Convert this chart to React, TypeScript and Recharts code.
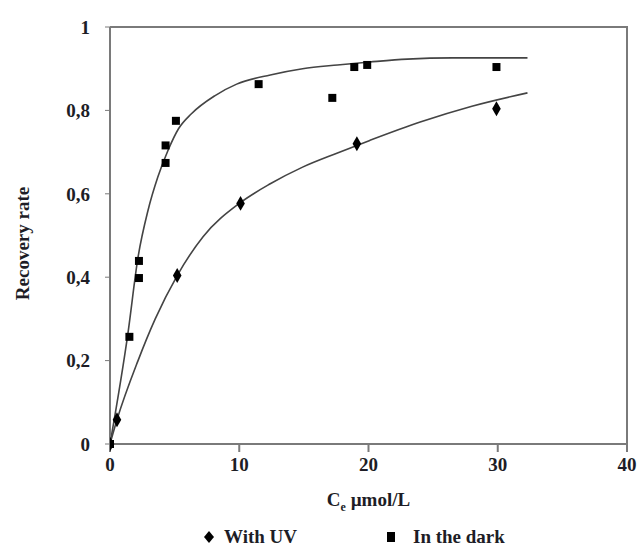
import React from "react";
import {
  ComposedChart,
  Line,
  Scatter,
  XAxis,
  YAxis,
  ReferenceLine,
} from "recharts";

// measured points (Ce in µmol/L, recovery rate)
const uvPoints = [
  { x: 0, y: 0 },
  { x: 0.54, y: 0.058 },
  { x: 5.2, y: 0.404 },
  { x: 10.1, y: 0.577 },
  { x: 19.1, y: 0.72 },
  { x: 29.9, y: 0.804 },
];

const darkPoints = [
  { x: 0, y: 0 },
  { x: 1.5, y: 0.257 },
  { x: 2.24, y: 0.398 },
  { x: 2.24, y: 0.439 },
  { x: 4.3, y: 0.674 },
  { x: 4.3, y: 0.716 },
  { x: 5.1, y: 0.775 },
  { x: 11.5, y: 0.863 },
  { x: 17.2, y: 0.83 },
  { x: 18.9, y: 0.904 },
  { x: 19.9, y: 0.909 },
  { x: 29.9, y: 0.904 },
];

// fitted curves
const uvFit = [
  { x: 0, y: 0 },
  { x: 0.54, y: 0.058 },
  { x: 2.17, y: 0.2 },
  { x: 3.5, y: 0.3 },
  { x: 5.2, y: 0.404 },
  { x: 7.2, y: 0.497 },
  { x: 10.05, y: 0.578 },
  { x: 12.4, y: 0.624 },
  { x: 14.9, y: 0.664 },
  { x: 17.6, y: 0.698 },
  { x: 20.1, y: 0.728 },
  { x: 24, y: 0.772 },
  { x: 28, y: 0.81 },
  { x: 32.3, y: 0.842 },
];

const darkFit = [
  { x: 0, y: 0 },
  { x: 1.39, y: 0.266 },
  { x: 2.17, y: 0.448 },
  { x: 2.94, y: 0.56 },
  { x: 3.7, y: 0.64 },
  { x: 4.5, y: 0.705 },
  { x: 5.3, y: 0.756 },
  { x: 6.3, y: 0.792 },
  { x: 8.1, y: 0.835 },
  { x: 9.8, y: 0.863 },
  { x: 12.4, y: 0.885 },
  { x: 14.9, y: 0.9 },
  { x: 17.6, y: 0.909 },
  { x: 20.1, y: 0.916 },
  { x: 23, y: 0.923 },
  { x: 26.5, y: 0.926 },
  { x: 32.3, y: 0.926 },
];

const xTicks = [0, 10, 20, 30, 40];
const yTicks = [0, 0.2, 0.4, 0.6, 0.8, 1];
const X_MAX = 40;
const Y_MAX = 1;

const CHART_W = 637;
const CHART_H = 547;
const MARGIN = { top: 27, right: 10, bottom: 73, left: 0 };
const Y_AXIS_W = 110;
const X_AXIS_H = 30;

// plot box, derived from the layout settings above
const BOX = {
  left: MARGIN.left + Y_AXIS_W,
  top: MARGIN.top,
  right: CHART_W - MARGIN.right,
  bottom: CHART_H - MARGIN.bottom - X_AXIS_H,
};

const FONT = '"Liberation Serif", "Times New Roman", serif';
const AXIS = "#7a7a7a";
const INK = "#1d1d26";

const tickStyle = { fontFamily: FONT, fontSize: 19, fontWeight: 700, fill: INK };

const XLabel = ({ viewBox }: any) => {
  const cx = viewBox.x + viewBox.width / 2;
  return (
    <text
      x={cx}
      y={viewBox.y + 62}
      textAnchor="middle"
      fontFamily={FONT}
      fontSize={19}
      fontWeight={700}
      fill={INK}
    >
      C
      <tspan fontSize={12} dy={5}>e</tspan>
      <tspan dy={-5}> µmol/L</tspan>
    </text>
  );
};

const YLabel = ({ viewBox }: any) => {
  const cy = viewBox.y + viewBox.height / 2 + 8;
  return (
    <text
      x={29}
      y={cy}
      transform={`rotate(-90 29 ${cy})`}
      textAnchor="middle"
      fontFamily={FONT}
      fontSize={19}
      fontWeight={700}
      fill={INK}
    >
      Recovery rate
    </text>
  );
};

const LegendBox = () => (
  <div
    style={{
      position: "absolute",
      left: 0,
      top: 526,
      width: CHART_W,
      height: 22,
      fontFamily: FONT,
      fontSize: 19,
      fontWeight: 700,
      color: INK,
      lineHeight: "22px",
    }}
  >
    <span style={{ position: "absolute", left: 203, top: 0, display: "flex", alignItems: "center" }}>
      <svg width={12} height={14}>
        <path d="M6 1 L11 7 L6 13 L1 7 Z" fill="#000" />
      </svg>
      <span style={{ marginLeft: 9 }}>With UV</span>
    </span>
    <span style={{ position: "absolute", left: 386, top: 0, display: "flex", alignItems: "center" }}>
      <svg width={10} height={12}>
        <rect x={1} y={1} width={8} height={10} fill="#000" />
      </svg>
      <span style={{ marginLeft: 17 }}>In the dark</span>
    </span>
  </div>
);

// svg overlay for the top and right edges of the frame
const Frame = () => (
  <svg
    width={CHART_W}
    height={CHART_H}
    style={{ position: "absolute", left: 0, top: 0, zIndex: 3, pointerEvents: "none" }}
  >
    <line x1={BOX.left} y1={BOX.top} x2={BOX.right + 1} y2={BOX.top} stroke={AXIS} strokeWidth={2} />
    <line x1={BOX.right} y1={BOX.top} x2={BOX.right} y2={BOX.bottom} stroke={AXIS} strokeWidth={2} />
  </svg>
);

export default function App() {
  return (
    <div style={{ position: "absolute", left: 0, top: 0, width: CHART_W, height: CHART_H, background: "#fff" }}>
      <div style={{ position: "absolute", left: 0, top: 0 }}>
        <ComposedChart width={CHART_W} height={CHART_H} margin={MARGIN}>
          <XAxis
            dataKey="x"
            type="number"
            domain={[0, X_MAX]}
            ticks={xTicks}
            height={X_AXIS_H}
            allowDataOverflow
            stroke={AXIS}
            strokeWidth={2}
            tickSize={8}
            tickMargin={6}
            tick={tickStyle}
            tickLine={{ stroke: AXIS, strokeWidth: 2 }}
            label={<XLabel />}
          />
          <YAxis
            dataKey="y"
            type="number"
            width={Y_AXIS_W}
            domain={[0, Y_MAX]}
            ticks={yTicks}
            stroke={AXIS}
            strokeWidth={2}
            tickSize={5}
            tickMargin={15}
            tick={tickStyle}
            tickLine={{ stroke: AXIS, strokeWidth: 1 }}
            tickFormatter={(v: number) => String(v).replace(".", ",")}
            label={<YLabel />}
          />
          <ReferenceLine
            segment={[{ x: 0, y: Y_MAX }, { x: X_MAX, y: Y_MAX }]}
            stroke={AXIS}
            strokeWidth={2}
            ifOverflow="visible"
          />
          <ReferenceLine
            segment={[{ x: X_MAX, y: 0 }, { x: X_MAX, y: Y_MAX }]}
            stroke={AXIS}
            strokeWidth={2}
            ifOverflow="visible"
          />
          <Line
            data={darkFit}
            dataKey="y"
            type="monotone"
            stroke="#444"
            strokeWidth={1.6}
            dot={false}
            activeDot={false}
            isAnimationActive={false}
          />
          <Line
            data={uvFit}
            dataKey="y"
            type="monotone"
            stroke="#444"
            strokeWidth={1.6}
            dot={false}
            activeDot={false}
            isAnimationActive={false}
          />
          <Scatter
            name="In the dark"
            data={darkPoints}
            dataKey="y"
            fill="#000"
            shape="square"
            size={120}
            isAnimationActive={false}
          />
          <Scatter
            name="With UV"
            data={uvPoints}
            dataKey="y"
            fill="#000"
            shape="diamond"
            size={75}
            isAnimationActive={false}
          />
        </ComposedChart>
      </div>
      <Frame />
      <LegendBox />
    </div>
  );
}
